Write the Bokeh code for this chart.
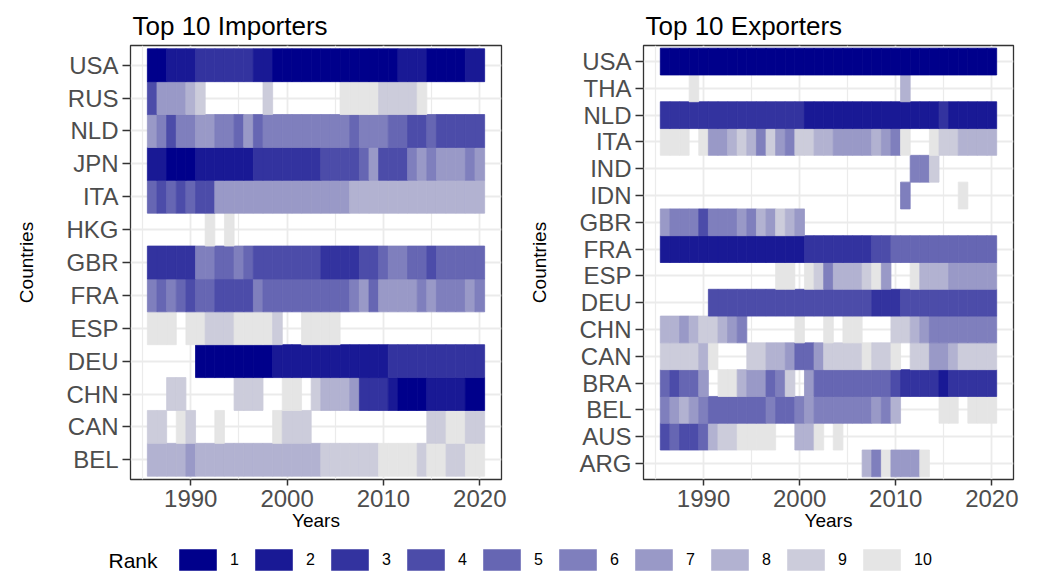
from bokeh.plotting import figure
from bokeh.models import ColumnDataSource, Range1d, FixedTicker, Legend, LegendItem, Label
from bokeh.layouts import column, row
from bokeh.embed import file_html
from bokeh.resources import INLINE

N = None
years = list(range(1986, 2021))
rank_labels = ["1", "2", "3", "4", "5", "6", "7", "8", "9", "10"]
rank_colors = ["#00008B", "#191995", "#33339F", "#4C4CA9", "#6666B3",
               "#7F7FBD", "#9999C7", "#B2B2D1", "#CCCCDB", "#E5E5E5"]
x_ticks = [1990, 2000, 2010, 2020]

# ---------------- Importers (bottom to top) ----------------
imp_countries = ["BEL", "CAN", "CHN", "DEU", "ESP", "FRA", "GBR", "HKG", "ITA", "JPN", "NLD", "RUS", "USA"]
imp_BEL = [8,8,8,8,7,8,8,8,8,8,8,8,8,8,8,8,8,8,9,9,9,9,9,9,10,10,10,10,9,10,10,9,9,10,10]
imp_CAN = [9,9,N,10,9,N,N,10,N,N,N,N,N,10,9,9,9,N,N,N,N,N,N,N,N,N,N,N,N,9,9,10,10,9,9]
imp_CHN = [N,N,9,9,N,N,N,N,N,9,9,9,N,N,10,10,N,9,8,8,8,7,3,3,3,2,1,1,1,2,2,2,2,1,1]
imp_DEU = [N,N,N,N,N,1,1,1,1,1,1,1,1,2,2,2,2,2,2,2,2,2,2,2,2,3,3,3,3,3,3,3,3,3,3]
imp_ESP = [10,10,10,N,10,10,9,9,9,10,10,10,10,9,N,N,10,10,10,10,N,N,N,N,N,N,N,N,N,N,N,N,N,N,N]
imp_FRA = [6,5,6,5,4,5,5,4,4,4,4,6,5,5,5,5,5,5,5,5,5,6,7,5,7,7,7,7,6,7,6,6,6,7,6]
imp_GBR = [3,3,3,3,3,6,6,5,5,6,5,4,4,4,4,4,4,4,3,3,3,3,4,4,5,6,6,5,5,4,5,5,5,5,5]
imp_HKG = [N,N,N,N,N,N,10,N,10,N,N,N,N,N,N,N,N,N,N,N,N,N,N,N,N,N,N,N,N,N,N,N,N,N,N]
imp_ITA = [5,4,5,4,5,4,4,7,7,7,7,7,7,7,7,7,7,7,7,7,7,8,8,8,8,8,8,8,8,8,8,8,8,8,8]
imp_JPN = [2,2,1,1,1,2,2,2,2,2,2,3,3,3,3,3,3,3,4,4,4,4,5,7,4,4,4,6,7,6,7,7,7,6,7]
imp_NLD = [7,6,4,6,6,7,7,6,6,5,7,5,6,6,6,6,6,6,6,6,6,5,6,6,6,5,5,4,4,5,4,4,4,4,4]
imp_RUS = [4,7,7,7,8,9,N,N,N,N,N,N,9,N,N,N,N,N,N,N,10,10,10,10,9,9,9,9,10,N,N,N,N,N,N]
imp_USA = [1,1,2,2,2,3,3,3,3,3,3,2,2,1,1,1,1,1,1,1,1,1,1,1,1,1,2,2,2,1,1,1,1,2,2]
imp_ranks = [imp_BEL, imp_CAN, imp_CHN, imp_DEU, imp_ESP, imp_FRA, imp_GBR, imp_HKG,
             imp_ITA, imp_JPN, imp_NLD, imp_RUS, imp_USA]

# ---------------- Exporters (bottom to top) ----------------
exp_countries = ["ARG", "AUS", "BEL", "BRA", "CAN", "CHN", "DEU", "ESP", "FRA", "GBR",
                 "IDN", "IND", "ITA", "NLD", "THA", "USA"]
exp_ARG = [N,N,N,N,N,N,N,N,N,N,N,N,N,N,N,N,N,N,N,N,N,8,6,10,7,7,7,10,N,N,N,N,N,N,N]
exp_AUS = [4,5,4,4,5,8,9,9,10,10,10,10,N,N,8,8,10,N,10,N,N,N,N,N,N,N,N,N,N,N,N,N,N,N,N]
exp_BEL = [6,7,8,7,6,5,5,5,5,5,5,6,5,5,6,7,6,6,6,6,6,6,7,6,8,N,N,N,N,10,10,N,10,10,10]
exp_BRA = [5,4,5,5,7,N,10,10,8,7,7,5,6,9,N,7,5,5,5,5,5,5,5,5,4,3,3,3,3,2,3,3,3,3,3]
exp_CAN = [9,9,9,9,8,10,N,N,N,9,9,8,8,7,5,5,7,9,9,9,9,10,9,9,10,N,9,9,7,7,8,9,9,9,9]
exp_CHN = [8,8,7,8,9,9,8,7,6,N,N,N,N,N,10,N,N,10,N,10,10,N,N,N,9,9,8,7,6,6,6,6,6,6,6]
exp_DEU = [N,N,N,N,N,4,4,4,4,4,4,4,4,4,4,4,4,4,4,4,4,4,3,3,3,4,4,4,4,4,4,4,4,4,4]
exp_ESP = [N,N,N,N,N,N,N,N,N,N,N,N,10,10,N,10,9,6,8,8,8,9,10,7,N,N,10,8,8,8,7,7,7,7,7]
exp_FRA = [2,2,2,2,2,2,2,2,2,2,2,2,2,2,2,3,3,3,3,3,3,3,4,4,5,5,5,5,5,5,5,5,5,5,5]
exp_GBR = [7,6,6,6,4,6,6,6,7,6,8,7,9,8,7,N,N,N,N,N,N,N,N,N,N,N,N,N,N,N,N,N,N,N,N]
exp_IDN = [N,N,N,N,N,N,N,N,N,N,N,N,N,N,N,N,N,N,N,N,N,N,N,N,N,6,N,N,N,N,N,10,N,N,N]
exp_IND = [N,N,N,N,N,N,N,N,N,N,N,N,N,N,N,N,N,N,N,N,N,N,N,N,N,N,6,6,9,N,N,N,N,N,N]
exp_ITA = [10,10,10,N,10,7,7,8,9,8,6,9,7,6,9,9,8,8,7,7,7,7,8,7,6,10,N,N,10,9,9,8,8,8,8]
exp_NLD = [3,3,3,3,3,3,3,3,3,3,3,3,3,3,3,2,2,2,2,2,2,2,2,2,2,2,2,2,2,3,2,2,2,2,2]
exp_THA = [N,N,N,10,N,N,N,N,N,N,N,N,N,N,N,N,N,N,N,N,N,N,N,N,N,8,N,N,N,N,N,N,N,N,N]
exp_USA = [1,1,1,1,1,1,1,1,1,1,1,1,1,1,1,1,1,1,1,1,1,1,1,1,1,1,1,1,1,1,1,1,1,1,1]
exp_ranks = [exp_ARG, exp_AUS, exp_BEL, exp_BRA, exp_CAN, exp_CHN, exp_DEU, exp_ESP, exp_FRA,
             exp_GBR, exp_IDN, exp_IND, exp_ITA, exp_NLD, exp_THA, exp_USA]

FONT = "Liberation Sans"


def tiles(countries, ranks):
    xs, ys, cs = [], [], []
    for ci, series in enumerate(ranks):
        for yr, rk in zip(years, series):
            if rk is None:
                continue
            xs.append(yr)
            ys.append(ci + 1)
            cs.append(rank_colors[rk - 1])
    return ColumnDataSource(dict(x=xs, y=ys, color=cs))


def panel(title, countries, ranks, width, left_border, right_border):
    n = len(countries)
    p = figure(width=width, height=537, output_backend="svg", toolbar_location=None,
               x_range=Range1d(1983.75, 2022.25), y_range=Range1d(0.4, n + 0.6),
               min_border_left=left_border, min_border_right=right_border,
               min_border_top=45, min_border_bottom=58)
    p.title.text = title
    p.title.text_font = FONT
    p.title.text_font_size = "26px"
    p.title.text_font_style = "normal"
    p.title.text_color = "#000000"
    p.title.standoff = 9
    p.title.offset = 2
    src = tiles(countries, ranks)
    p.rect(x="x", y="y", width=1, height=1, source=src,
           fill_color="color", line_color="color", line_width=0.8)
    p.xaxis.ticker = FixedTicker(ticks=x_ticks, minor_ticks=[1985, 1995, 2005, 2015])
    p.yaxis.ticker = FixedTicker(ticks=list(range(1, n + 1)))
    p.yaxis.major_label_overrides = {i + 1: c for i, c in enumerate(countries)}
    for ax in (p.xaxis[0], p.yaxis[0]):
        ax.axis_line_color = None
        ax.major_tick_line_color = "#333333"
        ax.major_tick_line_width = 1.5
        ax.major_tick_in = 0
        ax.minor_tick_line_color = None
        ax.major_label_text_font = FONT
        ax.major_label_text_font_size = "24px"
        ax.major_label_text_color = "#4D4D4D"
        ax.axis_label_text_font = FONT
        ax.axis_label_text_font_size = "19px"
        ax.axis_label_text_font_style = "normal"
        ax.axis_label_text_color = "#000000"
    p.xaxis.major_tick_out = 6
    p.yaxis.major_tick_out = 8
    p.xaxis.major_label_standoff = 4
    p.xaxis.axis_label_standoff = 0
    p.yaxis.major_label_standoff = 4
    p.yaxis.axis_label_standoff = 26
    p.xaxis.axis_label = "Years"
    p.yaxis.axis_label = "Countries"
    p.xgrid.grid_line_color = "#EBEBEB"
    p.xgrid.grid_line_width = 1.8
    p.xgrid.minor_grid_line_color = "#EBEBEB"
    p.xgrid.minor_grid_line_width = 1.2
    p.ygrid.grid_line_color = "#EBEBEB"
    p.ygrid.grid_line_width = 1.8
    p.outline_line_color = "#333333"
    p.outline_line_width = 1.3
    p.background_fill_color = "white"
    return p


p1 = panel("Top 10 Importers", imp_countries, imp_ranks, 520, 130, 19)
p2 = panel("Top 10 Exporters", exp_countries, exp_ranks, 520, 123, 27)

# legend strip
p3 = figure(width=1040, height=35, output_backend="svg", toolbar_location=None,
            x_range=Range1d(0, 1), y_range=Range1d(0, 1),
            x_axis_type=None, y_axis_type=None, min_border=0)
p3.grid.visible = False
p3.outline_line_color = None
lsrc = ColumnDataSource(dict(x=[-10] * 10, y=[-10] * 10, color=rank_colors))
lr = p3.rect(x="x", y="y", width=1, height=1, source=lsrc, fill_color="color", line_color=None)
items = [LegendItem(label=lab, renderers=[lr], index=i) for i, lab in enumerate(rank_labels)]
leg = Legend(items=items, orientation="horizontal", location=(174, -1),
             glyph_width=47, glyph_height=27, label_standoff=9, label_width=18, spacing=2,
             padding=0, margin=0, border_line_color=None, background_fill_alpha=0,
             label_text_font=FONT, label_text_font_size="16px", label_text_color="#000000")
p3.add_layout(leg, "center")
p3.add_layout(Label(x=108, y=12, x_units="screen", y_units="screen", text="Rank",
                    text_font=FONT, text_font_size="21px", text_baseline="middle",
                    text_color="#000000"))

layout = column(row(p1, p2), p3)
open("out.html", "w").write(file_html(layout, INLINE))
